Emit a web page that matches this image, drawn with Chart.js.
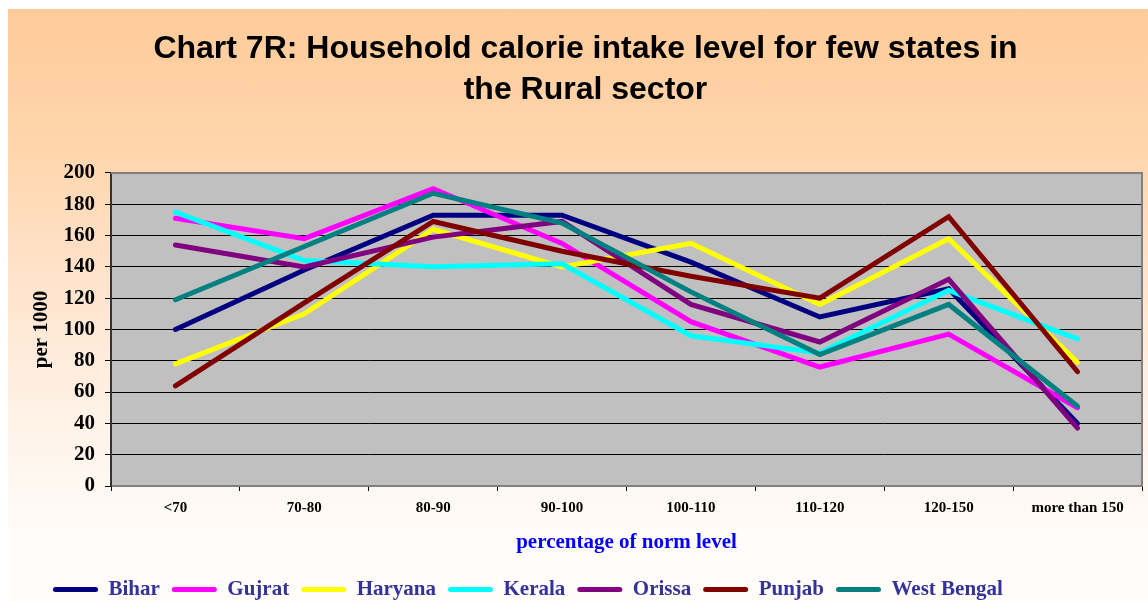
<!DOCTYPE html>
<html>
<head>
<meta charset="utf-8">
<title>Chart 7R</title>
<script src="https://cdn.jsdelivr.net/npm/chart.js@4/dist/chart.umd.min.js"></script>
<style>
    html, body { margin: 0; padding: 0; background: #fff; overflow: hidden; }
    #wrap {
        position: absolute; left: 8px; top: 9px; width: 1140px; height: 592px;
        background: linear-gradient(to bottom, #FFCB99 0%, #FFD6AE 25%, #FFE6D2 50%, #FFF4EA 72%, #FFFBF8 88%, #FFFCFA 100%);
    }
</style>
</head>
<body>
<div id="wrap"><canvas id="calorie-chart" width="1140" height="592"></canvas></div>
<script>
// Data (households per 1000)
const categories = ['<70', '70-80', '80-90', '90-100', '100-110', '110-120', '120-150', 'more than 150'];
const states = ['Bihar', 'Gujrat', 'Haryana', 'Kerala', 'Orissa', 'Punjab', 'West Bengal'];
const colors = ['#000080', '#FF00FF', '#FFFF00', '#00FFFF', '#800080', '#800000', '#008080'];

const bihar = [100, 138, 173, 173, 143, 108, 126, 40];
const gujrat = [171, 158, 190, 155, 105, 76, 97, 50];
const haryana = [78, 110, 164, 140, 155, 116, 158, 79];
const kerala = [175, 144, 140, 142, 96, 85, 125, 94];
const orissa = [154, 140, 159, 169, 116, 92, 132, 37];
const punjab = [64, 117, 169, 150, 134, 120, 172, 73];
const westBengal = [119, 153, 187, 168, 124, 84, 116, 51];

const seriesValues = [bihar, gujrat, haryana, kerala, orissa, punjab, westBengal];

const serif = 'Liberation Serif, Times New Roman, serif';

// grey plot area with a border on top and right, like the original
const plotBackground = {
    id: 'plotBackground',
    beforeDraw(chart) {
        const { ctx, chartArea: a } = chart;
        ctx.save();
        ctx.fillStyle = '#C0C0C0';
        ctx.fillRect(a.left, a.top, a.right - a.left, a.bottom - a.top);
        ctx.restore();
    },
    beforeDatasetsDraw(chart) {
        const { ctx, chartArea: a } = chart;
        ctx.save();
        ctx.strokeStyle = '#808080';
        ctx.lineWidth = 2;
        ctx.beginPath();
        ctx.moveTo(a.left, a.top);
        ctx.lineTo(a.right, a.top);
        ctx.lineTo(a.right, a.bottom);
        ctx.stroke();
        ctx.restore();
    }
};

// legend sits left of centre in the original
const legendShift = {
    id: 'legendShift',
    afterLayout(chart) {
        chart.legend.left = 33;
    }
};

const datasets = states.map((name, i) => ({
    label: name,
    data: seriesValues[i],
    borderColor: colors[i],
    backgroundColor: colors[i],
    borderWidth: 5,
    borderCapStyle: 'round',
    pointRadius: 0,
    pointHoverRadius: 0,
    tension: 0,
    order: states.length - 1 - i
}));

const ctx = document.getElementById('calorie-chart').getContext('2d');
const calorieChart = new Chart(ctx, {
    type: 'line',
    data: {
        labels: categories,
        datasets: datasets
    },
    options: {
        responsive: false,
        animation: false,
        layout: {
            padding: { left: 21, right: 6, top: 0, bottom: -9 }
        },
        plugins: {
            title: {
                display: true,
                text: ['Chart 7R: Household calorie intake level for few states in', 'the Rural sector'],
                color: '#000',
                font: { family: 'Liberation Sans, Arial, sans-serif', size: 32, weight: 'bold', lineHeight: 1.28 },
                padding: { top: 20, bottom: 62 }
            },
            legend: {
                position: 'bottom',
                align: 'start',
                labels: {
                    boxWidth: 45,
                    boxHeight: 5,
                    padding: 12,
                    color: '#333399',
                    useBorderRadius: true,
                    borderRadius: 2.5,
                    font: { family: serif, size: 21, weight: 'bold' },
                    generateLabels(chart) {
                        const items = Chart.defaults.plugins.legend.labels.generateLabels(chart);
                        return items.map(item => ({ ...item, lineWidth: 0 }));
                    },
                    sort: (a, b) => a.datasetIndex - b.datasetIndex
                }
            },
            tooltip: { enabled: false }
        },
        scales: {
            x: {
                offset: true,
                afterFit(scale) { scale.height = 81; },
                grid: {
                    display: true,
                    offset: true,
                    drawOnChartArea: false,
                    drawTicks: true,
                    tickLength: 5,
                    tickColor: '#000'
                },
                border: { display: true, color: '#808080', width: 2 },
                ticks: {
                    color: '#000',
                    padding: 8,
                    maxRotation: 0,
                    autoSkip: false,
                    font: { family: serif, size: 15, weight: 'bold' }
                },
                title: {
                    display: true,
                    text: 'percentage of norm level',
                    color: '#0000FF',
                    font: { family: serif, size: 21, weight: 'bold', lineHeight: 1.2 },
                    padding: { top: 0, bottom: 12 }
                }
            },
            y: {
                min: 0,
                max: 200,
                afterFit(scale) { scale.width = 82; },
                grid: {
                    color: '#000',
                    lineWidth: 1,
                    drawTicks: true,
                    tickLength: 6,
                    tickColor: '#000'
                },
                border: { display: true, color: '#333', width: 2 },
                ticks: {
                    stepSize: 20,
                    color: '#000',
                    padding: 10,
                    font: { family: serif, size: 21, weight: 'bold' }
                },
                title: {
                    display: true,
                    text: 'per 1000',
                    color: '#000',
                    font: { family: serif, size: 21, weight: 'bold', lineHeight: 1.2 },
                    padding: { top: 0, bottom: 0 }
                }
            }
        }
    },
    plugins: [plotBackground, legendShift]
});
</script>
</body>
</html>
